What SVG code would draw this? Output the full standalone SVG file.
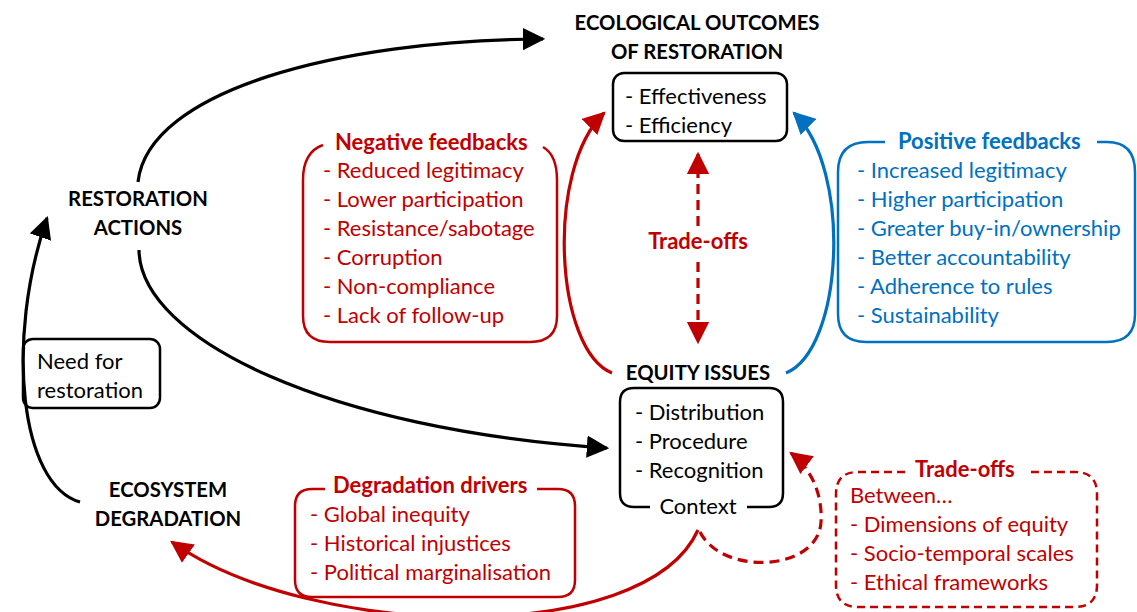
<svg xmlns="http://www.w3.org/2000/svg" width="1137" height="612" viewBox="0 0 1137 612">
<defs>
<style>
text{font-family:Lato,"Liberation Sans",sans-serif;font-size:22px}
.b{font-weight:bold}
.h{font-size:20.3px}
.k{fill:#000}
.r{fill:#C00000}
.u{fill:#0070C0}
.m{text-anchor:middle}
.box{fill:none;stroke:#000;stroke-width:2.5}
.rb{fill:none;stroke:#C00000;stroke-width:2.5}
.bb{fill:none;stroke:#0070C0;stroke-width:2.5}
.c{fill:none;stroke-width:3.2}
</style>
<marker id="ak" viewBox="0 0 10 10" refX="9" refY="5" markerWidth="7" markerHeight="7.2" orient="auto" markerUnits="strokeWidth"><path d="M0,0L10,5L0,10z" fill="#000"/></marker>
<marker id="ar" viewBox="0 0 10 10" refX="9" refY="5" markerWidth="7" markerHeight="7.2" orient="auto" markerUnits="strokeWidth"><path d="M0,0L10,5L0,10z" fill="#C00000"/></marker>
<marker id="au" viewBox="0 0 10 10" refX="9" refY="5" markerWidth="7" markerHeight="7.2" orient="auto" markerUnits="strokeWidth"><path d="M0,0L10,5L0,10z" fill="#0070C0"/></marker>
</defs>
<rect width="1137" height="612" fill="#fff"/>

<g id="connectors">
<path class="c" stroke="#000" d="M138,182 C148,90 340,40 543,39" marker-end="url(#ak)"/>
<path class="c" stroke="#000" d="M80,502 C20,485 5,340 47,218" marker-end="url(#ak)"/>
<path class="c" stroke="#000" d="M139,250 C140,340 330,430 607,448" marker-end="url(#ak)"/>
<path class="c" stroke="#C00000" d="M612,373 C555,350 545,170 604,113" marker-end="url(#ar)"/>
<path class="c" stroke="#0070C0" d="M786,373 C843,350 853,170 794,113" marker-end="url(#au)"/>
<path class="c" stroke="#C00000" stroke-dasharray="10,6" d="M698,226 V154" marker-end="url(#ar)"/>
<path class="c" stroke="#C00000" stroke-dasharray="10,6" d="M698,262 V342" marker-end="url(#ar)"/>
<path class="c" stroke="#C00000" d="M698,530 C645,648 310,640 172,542" marker-end="url(#ar)"/>
<path class="c" stroke="#C00000" stroke-dasharray="10,6" d="M700,532 C722,576 818,572 821,522 C823,485 803,462 791,453" marker-end="url(#ar)"/>
</g>

<g id="ecological-outcomes">
<text class="b h k m" x="697" y="30">ECOLOGICAL OUTCOMES</text>
<text class="b h k m" x="697" y="59">OF RESTORATION</text>
<rect class="box" x="613" y="73" width="174" height="68" rx="11"/>
<text class="k" x="625" y="104">- Effectiveness</text>
<text class="k" x="625" y="133">- Efficiency</text>
</g>

<g id="negative-feedbacks">
<path class="rb" d="M323,145 Q303,152 303,180 V316 Q303,342 330,342 H530 Q557,342 557,316 V180 Q557,155 543,147"/>
<text class="b r" x="335" y="150">Negative feedbacks</text>
<text class="r" x="323" y="178">- Reduced legitimacy</text>
<text class="r" x="323" y="207">- Lower participation</text>
<text class="r" x="323" y="236">- Resistance/sabotage</text>
<text class="r" x="323" y="265">- Corruption</text>
<text class="r" x="323" y="294">- Non-compliance</text>
<text class="r" x="323" y="323">- Lack of follow-up</text>
</g>

<g id="positive-feedbacks">
<path class="bb" d="M885,142 H868 Q838,142 838,172 V314 Q838,342 866,342 H1107 Q1135,342 1135,314 V172 Q1135,142 1107,142 H1097"/>
<text class="b u" x="898" y="149">Positive feedbacks</text>
<text class="u" x="857" y="178">- Increased legitimacy</text>
<text class="u" x="857" y="207">- Higher participation</text>
<text class="u" x="857" y="236">- Greater buy-in/ownership</text>
<text class="u" x="857" y="265">- Better accountability</text>
<text class="u" x="857" y="294">- Adherence to rules</text>
<text class="u" x="857" y="323">- Sustainability</text>
</g>

<g id="trade-offs-center">
<text class="b r m" x="698" y="249">Trade-offs</text>
</g>

<g id="equity-issues">
<text class="b h k m" x="698" y="380">EQUITY ISSUES</text>
<path class="box" d="M650,507 H634 Q620,507 620,493 V402 Q620,388 634,388 H769 Q783,388 783,402 V493 Q783,507 769,507 H747"/>
<text class="k" x="635" y="420">- Distribution</text>
<text class="k" x="635" y="449">- Procedure</text>
<text class="k" x="635" y="478">- Recognition</text>
<text class="k m" x="698" y="514">Context</text>
</g>

<g id="restoration-actions">
<text class="b h k m" x="138" y="206">RESTORATION</text>
<text class="b h k m" x="138" y="235">ACTIONS</text>
</g>

<g id="need-for-restoration">
<rect class="box" x="23" y="339" width="137" height="69" rx="10"/>
<text class="k" x="37" y="369">Need for</text>
<text class="k" x="37" y="398">restoration</text>
</g>

<g id="ecosystem-degradation">
<text class="b h k m" x="168" y="497">ECOSYSTEM</text>
<text class="b h k m" x="168" y="526">DEGRADATION</text>
</g>

<g id="degradation-drivers">
<path class="rb" d="M325,489 H312 Q295,489 295,506 V580 Q295,597 312,597 H558 Q575,597 575,580 V506 Q575,489 558,489 H537"/>
<text class="b r" x="333" y="493">Degradation drivers</text>
<text class="r" x="310" y="522">- Global inequity</text>
<text class="r" x="310" y="551">- Historical injustices</text>
<text class="r" x="310" y="580">- Political marginalisation</text>
</g>

<g id="trade-offs-box">
<path class="rb" stroke-dasharray="8,5" d="M905,472 H858 Q836,472 836,494 V585 Q836,607 858,607 H1075 Q1097,607 1097,585 V494 Q1097,472 1075,472 H1027"/>
<text class="b r" x="915" y="477">Trade-offs</text>
<text class="r" x="850" y="503">Between…</text>
<text class="r" x="850" y="532">- Dimensions of equity</text>
<text class="r" x="850" y="561">- Socio-temporal scales</text>
<text class="r" x="850" y="590">- Ethical frameworks</text>
</g>
</svg>
